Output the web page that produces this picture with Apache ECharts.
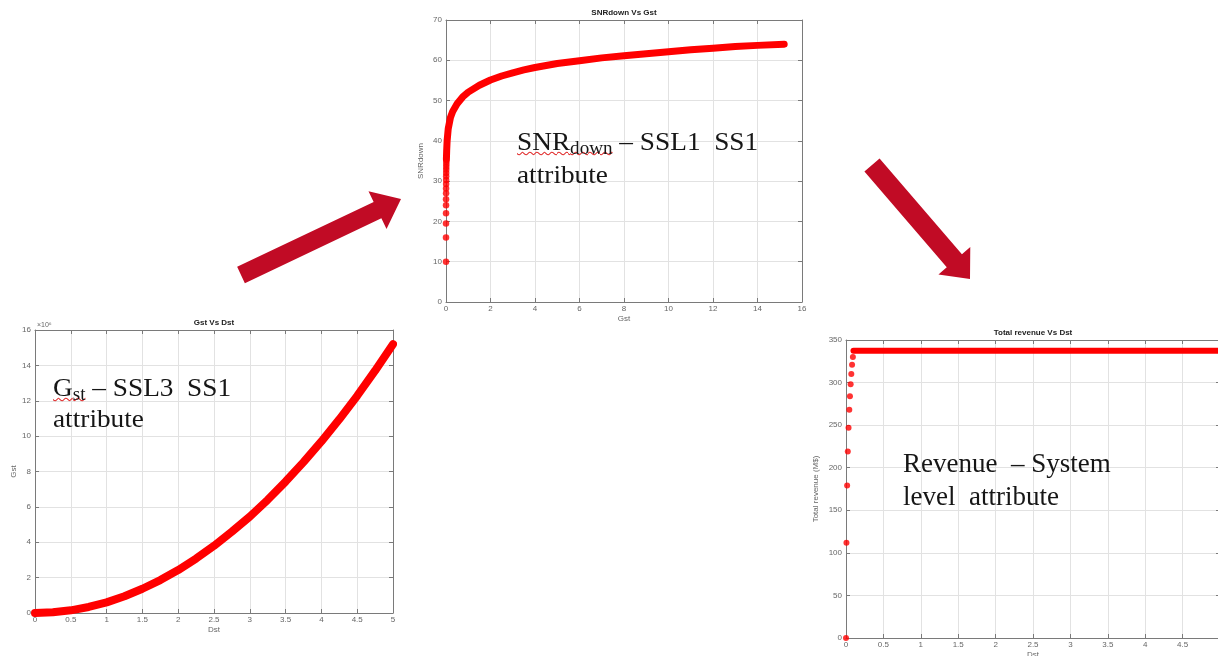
<!DOCTYPE html>
<html><head><meta charset="utf-8">
<script src="https://cdn.jsdelivr.net/npm/echarts@6/dist/echarts.min.js"></script>
<style>
html,body{margin:0;padding:0;background:#fff;}
#wrap{position:relative;width:1218px;height:656px;overflow:hidden;}
#chart{position:absolute;left:0;top:0;width:1218px;height:656px;}
.note{position:absolute;font-family:'Liberation Serif','Times New Roman',serif;color:#161616;white-space:pre;transform-origin:0 0;}
.note sub{font-size:0.7em;line-height:0;vertical-align:-0.22em;}
.sq{text-decoration:underline wavy #e02828;text-decoration-thickness:1px;text-decoration-skip-ink:none;}
</style></head>
<body><div id="wrap"><div id="chart"></div>
<div class="note" style="left:53px;top:372px;font-size:26px;line-height:31px;transform:scaleX(1.05);"><span class="sq">G<sub>st</sub></span> – SSL3  SS1<br>attribute</div>
<div class="note" style="left:517px;top:125px;font-size:26px;line-height:33px;transform:scaleX(1.05);"><span class="sq">SNR<sub>down</sub></span> – SSL1  SS1<br>attribute</div>
<div class="note" style="left:903px;top:447px;font-size:27px;line-height:33px;">Revenue  – System<br>level  attribute</div>
</div>
<script>
// ---- Chart 1: Gst Vs Dst (Gst in units of 1e6) ----
const gstDst = [0,0.25,0.5,0.75,1,1.25,1.5,1.75,2,2.25,2.5,2.75,3,3.25,3.5,3.75,4,4.25,4.5,4.75,5];
const gstVal = [0,0.04,0.15,0.34,0.6,0.95,1.37,1.86,2.43,3.08,3.8,4.6,5.45,6.4,7.43,8.53,9.7,10.95,12.28,13.7,15.2];
const gstXTicks = {min:0, max:5, interval:0.5};
const gstYTicks = {min:0, max:16, interval:2};

// ---- Chart 2: SNRdown Vs Gst ----
const snrDotGst = [0.00006,0.00024,0.00055,0.00097,0.0015,0.0022,0.003,0.0039,0.0049,0.0061,0.0074,0.0088,0.0103,0.0119,0.0137,0.0156];
const snrDotVal = [10,16,19.5,22,24,25.5,27,28.2,29.3,30.3,31.2,32,32.8,33.5,34.2,34.8];
const snrGst = [0.018,0.03,0.05,0.1,0.2,0.3,0.5,0.75,1,1.5,2,2.5,3,3.5,4,5,6,7,8,9,10,11,12,13,14,15.2];
const snrVal = [35.4,37.5,40,43,45.8,47.3,49.2,50.9,52.1,53.8,55.1,56.1,56.9,57.6,58.2,59.2,59.9,60.6,61.1,61.6,62.1,62.6,63,63.4,63.7,64];
const snrXTicks = {min:0, max:16, interval:2};
const snrYTicks = {min:0, max:70, interval:10};

// ---- Chart 3: Total revenue Vs Dst ----
const revDotDst = [0,0.006,0.015,0.024,0.034,0.044,0.053,0.062,0.071,0.081,0.092];
const revDotVal = [0,112,179,219,247,268,284,298,310,321,330];
const revFlatDst = [0.1,1,2,3,4,5];
const revFlatVal = [337.5,337.5,337.5,337.5,337.5,337.5];
const revXTicks = {min:0, max:5, interval:0.5};
const revYTicks = {min:0, max:350, interval:50};

const titles = ['Gst Vs Dst','SNRdown Vs Gst','Total revenue Vs Dst'];
const axisNames = [['Dst','Gst'],['Gst','SNRdown'],['Dst','Total revenue (M$)']];

const RED = '#ff0000';
const ARROW = '#c10b25';
const AX = '#7a7a7a';
const LBL = {color:'#666', fontSize:8, fontFamily:'Liberation Sans, Arial'};

const grids = [
  {left:35, top:330, width:358, height:283},
  {left:446, top:20, width:356, height:282},
  {left:846, top:340, width:374, height:298}
];
const xt = [gstXTicks, snrXTicks, revXTicks];
const yt = [gstYTicks, snrYTicks, revYTicks];
const yGap = [17, 21, 26];

const xAxis = [], yAxis = [];
grids.forEach((g,i)=>{
  xAxis.push({type:'value', gridIndex:i, min:xt[i].min, max:xt[i].max, interval:xt[i].interval,
    name:axisNames[i][0], nameLocation:'middle', nameGap:13, nameTextStyle:LBL,
    axisLine:{show:true, onZero:false, lineStyle:{color:AX}}, axisTick:{show:true, inside:true, length:4, lineStyle:{color:AX}},
    axisLabel:Object.assign({margin:3}, LBL), splitLine:{show:true, lineStyle:{color:'#e2e2e2'}}});
  xAxis.push({type:'value', gridIndex:i, position:'top', min:xt[i].min, max:xt[i].max, interval:xt[i].interval,
    axisLine:{show:true, onZero:false, lineStyle:{color:AX}}, axisTick:{show:true, inside:true, length:4, lineStyle:{color:AX}},
    axisLabel:{show:false}, splitLine:{show:false}});
  yAxis.push({type:'value', gridIndex:i, min:yt[i].min, max:yt[i].max, interval:yt[i].interval,
    name:axisNames[i][1], nameLocation:'middle', nameGap:yGap[i], nameTextStyle:LBL,
    axisLine:{show:true, onZero:false, lineStyle:{color:AX}}, axisTick:{show:true, inside:true, length:4, lineStyle:{color:AX}},
    axisLabel:Object.assign({margin:4}, LBL), splitLine:{show:true, lineStyle:{color:'#e2e2e2'}}});
  yAxis.push({type:'value', gridIndex:i, position:'right', min:yt[i].min, max:yt[i].max, interval:yt[i].interval,
    axisLine:{show:true, onZero:false, lineStyle:{color:AX}}, axisTick:{show:true, inside:true, length:4, lineStyle:{color:AX}},
    axisLabel:{show:false}, splitLine:{show:false}});
});

const zip = (a,b)=>a.map((v,k)=>[v,b[k]]);

function arrowPts(t,p,sw,hw,hl){
  const dx=p[0]-t[0], dy=p[1]-t[1], L=Math.hypot(dx,dy), ux=dx/L, uy=dy/L, nx=-uy, ny=ux;
  const bx=p[0]-ux*hl, by=p[1]-uy*hl;
  return [[t[0]+nx*sw/2,t[1]+ny*sw/2],[bx+nx*sw/2,by+ny*sw/2],[bx+nx*hw/2,by+ny*hw/2],p,
          [bx-nx*hw/2,by-ny*hw/2],[bx-nx*sw/2,by-ny*sw/2],[t[0]-nx*sw/2,t[1]-ny*sw/2]];
}

const titleFont = 'bold 8px Liberation Sans, Arial';
const graphic = [
  {type:'text', x:214, y:323, style:{text:titles[0], textAlign:'center', textVerticalAlign:'middle', font:titleFont, fill:'#222'}},
  {type:'text', x:624, y:13, style:{text:titles[1], textAlign:'center', textVerticalAlign:'middle', font:titleFont, fill:'#222'}},
  {type:'text', x:1033, y:333, style:{text:titles[2], textAlign:'center', textVerticalAlign:'middle', font:titleFont, fill:'#222'}},
  {type:'text', x:37, y:325, style:{text:'×10⁶', textAlign:'left', textVerticalAlign:'middle', font:'7px Liberation Sans, Arial', fill:'#666'}},
  {type:'polygon', shape:{points:arrowPts([241,275],[401,199],18,42,26)}, style:{fill:ARROW}},
  {type:'polygon', shape:{points:arrowPts([872,165],[970,279],20,42,24)}, style:{fill:ARROW}}
];

const chart = echarts.init(document.getElementById('chart'), null, {renderer:'canvas'});
chart.setOption({
  animation:false,
  backgroundColor:'#fff',
  grid:grids.map(g=>Object.assign({containLabel:false, outerBoundsMode:'none'}, g)),
  xAxis, yAxis,
  graphic,
  series:[
    {type:'line', xAxisIndex:0, yAxisIndex:0, data:zip(gstDst,gstVal), smooth:false, symbol:'none',
     lineStyle:{color:RED, width:8, cap:'round', join:'round'}},
    {type:'scatter', xAxisIndex:2, yAxisIndex:2, data:zip(snrDotGst,snrDotVal), symbol:'circle', symbolSize:6.5,
     itemStyle:{color:RED}},
    {type:'line', xAxisIndex:2, yAxisIndex:2, data:zip(snrGst,snrVal), smooth:false, symbol:'none',
     lineStyle:{color:RED, width:7, cap:'round', join:'round'}},
    {type:'scatter', xAxisIndex:4, yAxisIndex:4, data:zip(revDotDst,revDotVal), symbol:'circle', symbolSize:6,
     itemStyle:{color:RED}, clip:false},
    {type:'line', xAxisIndex:4, yAxisIndex:4, data:zip(revFlatDst,revFlatVal), symbol:'none',
     lineStyle:{color:RED, width:6, cap:'round', join:'round'}}
  ]
});
</script></body></html>
